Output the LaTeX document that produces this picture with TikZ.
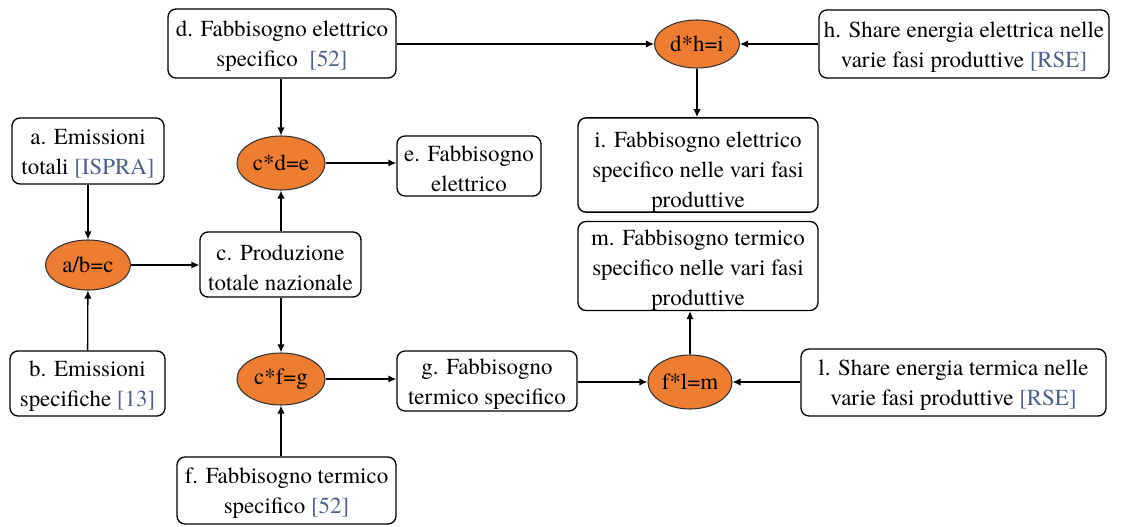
\documentclass[tikz,border=0pt]{standalone}
\usepackage{fontspec}
\setmainfont{texgyretermes}[Extension=.otf, UprightFont=*-regular, BoldFont=*-bold, ItalicFont=*-italic, BoldItalicFont=*-bolditalic]
\usetikzlibrary{shapes.geometric,arrows.meta}
\definecolor{opfill}{HTML}{ED7D31}
\definecolor{refcol}{HTML}{4F6288}
\newcommand{\rf}[1]{\textcolor{refcol}{[#1]}}
% strut on the first line to lower a text block inside its box
\newcommand{\lw}[1]{\rule{0pt}{#1}}
\begin{document}
\begin{tikzpicture}[x=0.75pt,y=-0.75pt,
  every node/.style={font=\fontsize{17.2pt}{22.5pt}\selectfont},
  box/.style={draw, line width=1pt, rounded corners=6pt, fill=white, align=center, inner sep=0pt},
  op/.style={ellipse, draw=black!80, line width=0.8pt, fill=opfill, inner sep=0pt},
  link/.style={-{Latex[length=6pt,width=5.5pt]}, line width=1pt}]
\useasboundingbox (0,0) rectangle (1122,527);
% data boxes
\node[box, minimum width={228*0.75pt}, minimum height={69*0.75pt}] (d) at (282,43.5) {\lw{16pt}d. Fabbisogno elettrico\\specifico~ \rf{52}};
\node[box, minimum width={152*0.75pt}, minimum height={66*0.75pt}] (a) at (88,151) {\lw{16pt}a. Emissioni\\totali \rf{ISPRA}};
\node[box, minimum width={155*0.75pt}, minimum height={65*0.75pt}] (b) at (87.5,383.5) {\lw{16pt}b. Emissioni\\specifiche \rf{13}};
\node[box, minimum width={161*0.75pt}, minimum height={65*0.75pt}] (c) at (280.5,264.5) {\lw{16pt}c. Produzione\\totale nazionale};
\node[box, minimum width={144*0.75pt}, minimum height={60*0.75pt}] (e) at (469,166) {\lw{16pt}e. Fabbisogno\\elettrico};
\node[box, minimum width={219*0.75pt}, minimum height={67*0.75pt}] (f) at (286.5,490.5) {\lw{16pt}f. Fabbisogno termico\\specifico \rf{52}};
\node[box, minimum width={180*0.75pt}, minimum height={60*0.75pt}] (g) at (487,381) {\lw{16pt}g. Fabbisogno\\termico specifico};
\node[box, minimum width={290*0.75pt}, minimum height={68*0.75pt}] (h) at (964,44) {\lw{16pt}h. Share energia elettrica nelle\\varie fasi produttive \rf{RSE}};
\node[box, minimum width={240*0.75pt}, minimum height={86*0.75pt}] (i) at (698,165) {\lw{22pt}i. Fabbisogno elettrico\\specifico nelle vari fasi\\produttive};
\node[box, minimum width={240*0.75pt}, minimum height={88*0.75pt}] (m) at (698,266) {\lw{18pt}m. Fabbisogno termico\\specifico nelle vari fasi\\produttive};
\node[box, minimum width={305*0.75pt}, minimum height={67*0.75pt}] (l) at (953.5,382.5) {\lw{16pt}l. Share energia termica nelle\\varie fasi produttive \rf{RSE}};
% operations
\node[op, minimum width={85*0.75pt}, minimum height={50*0.75pt}] (abc) at (88,265) {a/b=c};
\node[op, minimum width={88*0.75pt}, minimum height={54*0.75pt}] (cde) at (281,163) {c*d=e};
\node[op, minimum width={88*0.75pt}, minimum height={52*0.75pt}] (cfg) at (281,379) {c*f=g};
\node[op, minimum width={85*0.75pt}, minimum height={48*0.75pt}] (dhi) at (697,44) {d*h=i};
\node[op, minimum width={84*0.75pt}, minimum height={54*0.75pt}] (flm) at (690,382) {f*l=m};
% connectors
\draw[link] (a) -- (abc);
\draw[link] (b) -- (abc);
\draw[link] (abc) -- (c.west |- abc);
\draw[link] (d.south -| cde) -- (cde);
\draw[link] (c.north -| cde) -- (cde);
\draw[link] (cde) -- (e.west |- cde);
\draw[link] (c.south -| cfg) -- (cfg);
\draw[link] (f.north -| cfg) -- (cfg);
\draw[link] (cfg) -- (g.west |- cfg);
\draw[link] (g.east |- flm) -- (flm);
\draw[link] (l.west |- flm) -- (flm);
\draw[link] (flm) -- (m.south -| flm);
\draw[link] (d.east |- dhi) -- (dhi);
\draw[link] (h) -- (dhi);
\draw[link] (dhi) -- (i.north -| dhi);
\end{tikzpicture}
\end{document}
